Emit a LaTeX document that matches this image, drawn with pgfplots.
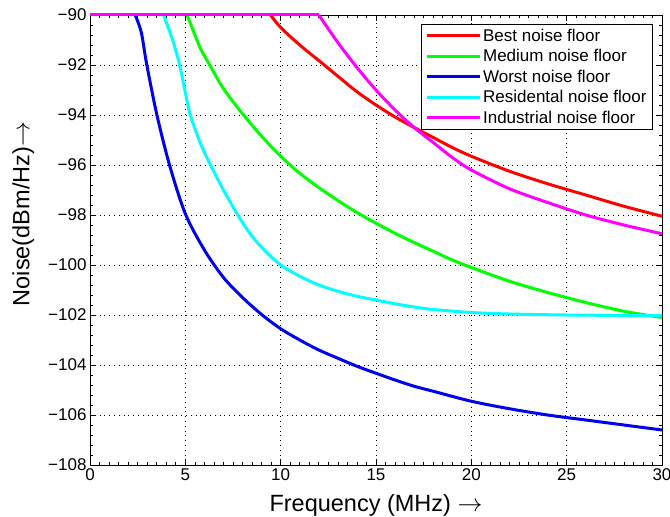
\documentclass[border=0pt]{standalone}
\usepackage{pgfplots}
\pgfplotsset{compat=1.18}
\usepackage{fontspec}
\setmainfont{Liberation Sans}
\definecolor{cRed}{RGB}{255,0,0}
\definecolor{cGreen}{RGB}{0,255,0}
\definecolor{cBlue}{RGB}{0,0,235}
\definecolor{cCyan}{RGB}{0,255,255}
\definecolor{cMag}{RGB}{255,0,255}
\begin{document}
\begin{tikzpicture}
\path[use as bounding box] (-90pt,-52pt) rectangle (580pt,465pt);
\begin{axis}[
  scale only axis, width=572pt, height=450pt,
  xmin=0, xmax=30, ymin=-108, ymax=-90,
  xtick={0,5,...,30}, ytick={-108,-106,...,-90},
  yticklabels={−108,−106,−104,−102,−100,−98,−96,−94,−92,−90},
  minor x tick num=9, minor y tick num=4,
  tick align=inside, major tick length=6pt, minor tick length=3pt,
  xtick pos=both, ytick pos=both,
  grid=major,
  major grid style={black, line width=0.7pt, dash pattern=on 0.8pt off 4pt},
  axis line style={black, line width=0.8pt},
  every tick/.style={black, line width=0.6pt},
  tick label style={font=\fontsize{17}{19}\selectfont},
  /pgf/number format/assume math mode=true,
  xlabel={Frequency (MHz) $\rightarrow$},
  ylabel={Noise(dBm/Hz)$\rightarrow$},
  label style={font=\fontsize{23.5}{26}\selectfont},
  xlabel style={yshift=-7pt},
  ylabel style={yshift=7pt, xshift=26pt},
  clip=false,
  legend cell align=left,
  legend style={at={(1,1)}, anchor=north east, xshift=-9pt, yshift=-9pt,
    draw=black, line width=0.8pt, font=\fontsize{17}{19}\selectfont,
    row sep=2.7pt, inner xsep=4pt, inner ysep=2.5pt},
  legend image code/.code={\draw[#1, line width=3pt] (0pt,0pt) -- (53pt,0pt);},
  every axis plot/.append style={line width=3pt, line join=round},
]
% Best
\addplot[cRed, forget plot] coordinates {(0,-90)(9.47,-90)};
\addplot[cRed, smooth, tension=0.5] coordinates {(9.47,-90)(10,-90.5)(11,-91.2)(12,-91.82)(13,-92.45)(14,-93.07)(15,-93.6)(16,-94.08)(17,-94.5)(18,-94.9)(19,-95.3)(20,-95.65)(22,-96.25)(24,-96.75)(26,-97.2)(28,-97.65)(30,-98.05)};
\addlegendentry{Best noise floor}
% Medium
\addplot[cGreen, forget plot] coordinates {(0,-90)(5.09,-90)};
\addplot[cGreen, smooth, tension=0.5] coordinates {(5.09,-90)(5.4,-90.6)(5.8,-91.35)(6.28,-92)(7,-92.95)(8,-93.95)(9,-94.85)(10,-95.65)(11,-96.33)(12,-96.9)(13,-97.42)(14,-97.9)(15,-98.33)(16,-98.73)(17,-99.1)(18,-99.45)(19,-99.8)(20,-100.1)(22,-100.65)(24,-101.1)(26,-101.5)(28,-101.85)(30,-102.1)};
\addlegendentry{Medium noise floor}
% Worst
\addplot[cBlue, forget plot] coordinates {(0,-90)(2.37,-90)};
\addplot[cBlue, smooth, tension=0.5] coordinates {(2.37,-90)(2.55,-90.35)(2.72,-90.8)(2.98,-92)(3.51,-94)(4.17,-96)(5.0,-97.95)(6,-99.4)(7,-100.5)(8,-101.3)(9,-101.98)(10,-102.55)(11,-103.0)(12,-103.4)(13,-103.73)(14,-104.05)(15,-104.33)(16,-104.6)(17,-104.85)(18,-105.05)(20,-105.45)(22,-105.75)(24,-106.0)(26,-106.2)(28,-106.4)(30,-106.6)};
\addlegendentry{Worst noise floor}
% Residential
\addplot[cCyan, forget plot] coordinates {(0,-90)(3.86,-90)};
\addplot[cCyan, smooth, tension=0.5] coordinates {(3.86,-90)(4.1,-90.5)(4.39,-91.13)(4.7,-92)(5.0,-93.1)(5.26,-94)(5.79,-95.13)(6.32,-96)(7.0,-97.0)(7.75,-98)(8.5,-98.85)(9.2,-99.45)(10,-100)(11,-100.45)(12,-100.8)(13,-101.05)(14,-101.25)(15,-101.4)(16,-101.55)(17,-101.68)(18,-101.78)(20,-101.9)(22,-101.96)(25,-102.0)(30,-102.03)};
\addlegendentry{Residental noise floor}
% Industrial
\addplot[cMag, forget plot] coordinates {(0,-90)(12,-90)};
\addplot[cMag, smooth, tension=0.5] coordinates {(12,-90)(13,-91.1)(14,-92.1)(15,-93.0)(16,-93.8)(17,-94.5)(18,-95.1)(19,-95.7)(20,-96.2)(22,-96.95)(24,-97.5)(26,-98.0)(28,-98.4)(30,-98.75)};
\addlegendentry{Industrial noise floor}
\end{axis}
\end{tikzpicture}
\end{document}
